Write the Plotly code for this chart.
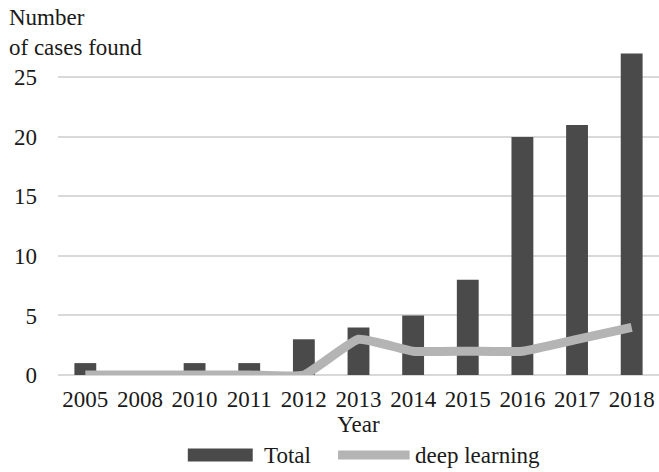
import plotly.graph_objects as go

years = ["2005", "2008", "2010", "2011", "2012", "2013", "2014", "2015", "2016", "2017", "2018"]
total = [1, 0, 1, 1, 3, 4, 5, 8, 20, 21, 27]
deep_learning = [0, 0, 0, 0, 0, 3, 2, 2, 2, 3, 4]

FONT = "Liberation Serif, Times New Roman, serif"
BAR_COLOR = "#4a4a4a"
LINE_COLOR = "#b4b4b4"
FS = 23

fig = go.Figure()
fig.add_trace(go.Bar(
    x=years, y=total, name="Total",
    marker=dict(color=BAR_COLOR, line=dict(width=0)),
    width=0.4,
))
fig.add_trace(go.Scatter(
    x=years, y=deep_learning, name="deep learning", mode="lines",
    line=dict(color=LINE_COLOR, width=9, shape="spline", smoothing=0.4),
))

fig.update_layout(
    width=659, height=472,
    margin=dict(l=58, r=0, t=50, b=97),
    paper_bgcolor="white", plot_bgcolor="white",
    font=dict(family=FONT, size=FS, color="#1a1a1a"),
    showlegend=False,
    xaxis=dict(
        type="category", showgrid=False, showline=False, ticks="",
        tickfont=dict(size=FS), ticklabelstandoff=8,
        title=dict(text="Year", font=dict(size=FS), standoff=4),
    ),
    yaxis=dict(
        range=[0, 27.3], dtick=5, showline=False, ticks="",
        gridcolor="#d9d9d9", gridwidth=2,
        zeroline=True, zerolinecolor="#d9d9d9", zerolinewidth=2,
        tickfont=dict(size=FS), ticklabelstandoff=20,
    ),
    annotations=[
        dict(text="Number<br>of cases found", xref="paper", yref="paper",
             x=-0.085, y=1.145, xanchor="left", yanchor="top", align="left",
             showarrow=False, font=dict(size=FS)),
        dict(text="Total", xref="paper", yref="paper", x=0.339, y=-0.247,
             xanchor="left", yanchor="middle", showarrow=False, font=dict(size=FS)),
        dict(text="deep learning", xref="paper", yref="paper", x=0.591, y=-0.247,
             xanchor="left", yanchor="middle", showarrow=False, font=dict(size=FS)),
    ],
    shapes=[
        dict(type="rect", xref="paper", yref="paper", x0=0.216, x1=0.324,
             y0=-0.266, y1=-0.226, fillcolor=BAR_COLOR, line=dict(width=0)),
        dict(type="line", xref="paper", yref="paper", x0=0.466, x1=0.585,
             y0=-0.246, y1=-0.246, line=dict(color=LINE_COLOR, width=9)),
    ],
)

fig.write_html("out.html")
